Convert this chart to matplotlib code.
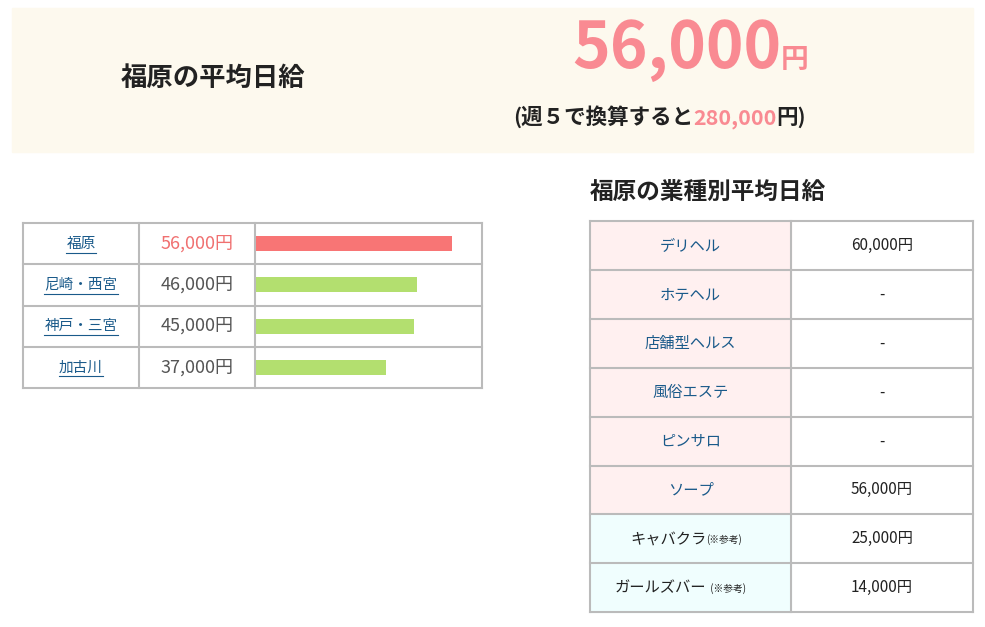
import matplotlib
matplotlib.use("Agg")
import matplotlib.pyplot as plt
from matplotlib.patches import Rectangle

plt.rcParams["font.family"] = "Noto Sans CJK JP"

# --- データ ---
areas = ["福原", "尼崎・西宮", "神戸・三宮", "加古川"]
area_pay = [56000, 46000, 45000, 37000]
area_labels = ["56,000円", "46,000円", "45,000円", "37,000円"]

genres = ["デリヘル", "ホテヘル", "店舗型ヘルス", "風俗エステ", "ピンサロ", "ソープ",
          "キャバクラ", "ガールズバー"]
genre_notes = ["", "", "", "", "", "", "(※参考)", "  (※参考)"]
genre_pay = ["60,000円", "-", "-", "-", "-", "56,000円", "25,000円", "14,000円"]

W, H = 985, 627
fig = plt.figure(figsize=(W / 100, H / 100), dpi=100)
ax = fig.add_axes([0, 0, 1, 1])
ax.set_xlim(0, W)
ax.set_ylim(H, 0)
ax.axis("off")

pink = "#f98a92"
dark = "#222222"
link = "#1a5a8a"
grid = "#bbbbbb"
renderer = fig.canvas.get_renderer()


def chain(x, y, parts, **kw):
    """テキスト片を左から順に並べる"""
    for s, size, col in parts:
        t = ax.text(x, y, s, fontsize=size, color=col, ha="left", va="baseline",
                    fontweight="bold", **kw)
        bb = t.get_window_extent(renderer)
        x += bb.width


# ヘッダー
ax.add_patch(Rectangle((12, 8), 961, 144, color="#fdf9ee", zorder=0))
ax.text(213, 78, "福原の平均日給", fontsize=19, fontweight="bold", color=dark,
        ha="center", va="center")
chain(572, 68, [("56,000", 46, pink), ("円", 20, pink)])
chain(513, 124, [("(週５で換算すると", 15.5, dark), ("280,000", 15.5, pink),
                 ("円)", 15.5, dark)])

# 左の表
x0, x1, x2, x3 = 23, 139, 255, 482
y0, rh = 223, 41.25
for i, (a, lab) in enumerate(zip(areas, area_labels)):
    yc = y0 + rh * (i + 0.5)
    t = ax.text((x0 + x1) / 2, yc, a, fontsize=10.5, color=link, ha="center",
                va="center")
    tw = t.get_window_extent(renderer).width
    ax.plot([(x0 + x1) / 2 - tw / 2, (x0 + x1) / 2 + tw / 2], [yc + 9, yc + 9],
            color=link, lw=0.8)
    ax.text((x1 + x2) / 2, yc, lab, fontsize=13,
            color="#f07070" if i == 0 else "#555555", ha="center", va="center")
for i in range(len(areas) + 1):
    ax.plot([x0, x3], [y0 + rh * i] * 2, color=grid, lw=1.5)
for x in (x0, x1, x2, x3):
    ax.plot([x, x], [y0, y0 + rh * len(areas)], color=grid, lw=1.5)

# 棒グラフ (ピクセル 256..452 が 0..56000)
bx = fig.add_axes([256 / W, 1 - (y0 + rh * 4) / H, 196 / W, rh * 4 / H])
bx.set_xlim(0, max(area_pay))
bx.set_ylim(len(areas) - 0.5, -0.5)
bx.barh(range(len(areas)), area_pay, height=0.36,
        color=["#f87575"] + ["#b3df6f"] * 3)
bx.axis("off")
bx.patch.set_alpha(0)

# 右の表
ax.text(590, 192, "福原の業種別平均日給", fontsize=17, fontweight="bold",
        color=dark, ha="left", va="center")
rx0, rx1, rx2 = 590, 791, 973
ry0, rrh = 221, 48.9
for i, (g, n, p) in enumerate(zip(genres, genre_notes, genre_pay)):
    top = ry0 + rrh * i
    yc = top + rrh / 2
    ax.add_patch(Rectangle((rx0, top), rx1 - rx0, rrh,
                           color="#fff0f0" if i < 6 else "#f0fefe", zorder=0))
    if n:
        ax.text((rx0 + rx1) / 2 + 16, yc, g, fontsize=11, color=dark,
                ha="right", va="center")
        ax.text((rx0 + rx1) / 2 + 16, yc + 1, n, fontsize=7, color=dark,
                ha="left", va="center")
    else:
        ax.text((rx0 + rx1) / 2, yc, g, fontsize=11, color=link,
                ha="center", va="center")
    ax.text((rx1 + rx2) / 2, yc, p, fontsize=11, color=dark,
            ha="center", va="center")
for i in range(len(genres) + 1):
    ax.plot([rx0, rx2], [ry0 + rrh * i] * 2, color=grid, lw=1.5)
for x in (rx0, rx1, rx2):
    ax.plot([x, x], [ry0, ry0 + rrh * len(genres)], color=grid, lw=1.5)

fig.savefig("out.png", dpi=100)
